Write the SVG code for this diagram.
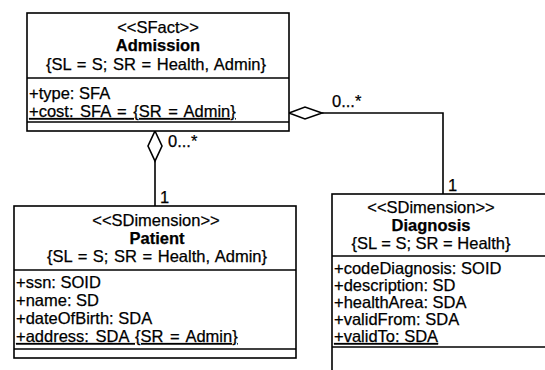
<svg xmlns="http://www.w3.org/2000/svg" width="545" height="370" viewBox="0 0 545 370">
  <style>
    .box { fill: #ffffff; stroke: #000000; stroke-width: 1.6; }
    .line { stroke: #000000; stroke-width: 1.6; fill: none; }
    .t { font-family: "Liberation Sans", Arial, sans-serif; font-size: 16.5px; fill: #000000; stroke: #000000; stroke-width: 0.25; }
    .c { text-anchor: middle; }
    .b { font-weight: bold; }
    .u { text-decoration: underline; }
    .diamond { fill: #ffffff; stroke: #000000; stroke-width: 1.6; }
  </style>
  <rect width="545" height="370" fill="#ffffff"/>

  <!-- connectors -->
  <g id="connectors">
    <line class="line" x1="155" y1="161" x2="155" y2="206"/>
    <polygon class="diamond" points="155,131 162,146 155,161 148,146"/>
    <text class="t" x="168" y="147">0...*</text>
    <text class="t" x="160" y="203">1</text>

    <polyline class="line" points="322,113 443,113 443,194"/>
    <polygon class="diamond" points="289,113 305,107 322,113 305,119"/>
    <text class="t" x="332" y="107">0...*</text>
    <text class="t" x="448" y="191">1</text>
  </g>

  <!-- Admission -->
  <g id="admission">
    <rect class="box" x="27" y="13" width="262" height="118"/>
    <text class="t c" x="158" y="33">&lt;&lt;SFact&gt;&gt;</text>
    <text class="t c b" x="158" y="51">Admission</text>
    <text class="t c" x="156" y="70" style="word-spacing:1px">{SL = S; SR = Health, Admin}</text>
    <line class="line" x1="27" y1="78" x2="289" y2="78"/>
    <text class="t" x="29" y="99">+type: SFA</text>
    <text class="t u" x="29" y="117" style="word-spacing:2px">+cost: SFA = {SR = Admin}</text>
    <line class="line" x1="27" y1="122" x2="289" y2="122"/>
  </g>

  <!-- Patient -->
  <g id="patient">
    <rect class="box" x="14" y="206" width="282" height="152"/>
    <text class="t c" x="156" y="226">&lt;&lt;SDimension&gt;&gt;</text>
    <text class="t c b" x="157" y="244">Patient</text>
    <text class="t c" x="157" y="262" style="word-spacing:1px">{SL = S; SR = Health, Admin}</text>
    <line class="line" x1="14" y1="270" x2="296" y2="270"/>
    <text class="t" x="16" y="288">+ssn: SOID</text>
    <text class="t" x="16" y="306">+name: SD</text>
    <text class="t" x="16" y="324">+dateOfBirth: SDA</text>
    <text class="t u" x="16" y="342" style="word-spacing:2px">+address: SDA {SR = Admin}</text>
    <line class="line" x1="14" y1="349" x2="296" y2="349"/>
  </g>

  <!-- Diagnosis -->
  <g id="diagnosis">
    <rect class="box" x="332" y="194" width="230" height="190"/>
    <text class="t c" x="431" y="213">&lt;&lt;SDimension&gt;&gt;</text>
    <text class="t c b" x="431" y="231">Diagnosis</text>
    <text class="t c" x="431" y="249">{SL = S; SR = Health}</text>
    <line class="line" x1="332" y1="256" x2="545" y2="256"/>
    <text class="t" x="334" y="274">+codeDiagnosis: SOID</text>
    <text class="t" x="334" y="291">+description: SD</text>
    <text class="t" x="334" y="308">+healthArea: SDA</text>
    <text class="t" x="334" y="325">+validFrom: SDA</text>
    <text class="t u" x="334" y="342">+validTo: SDA</text>
    <line class="line" x1="332" y1="347" x2="545" y2="347"/>
  </g>
</svg>
